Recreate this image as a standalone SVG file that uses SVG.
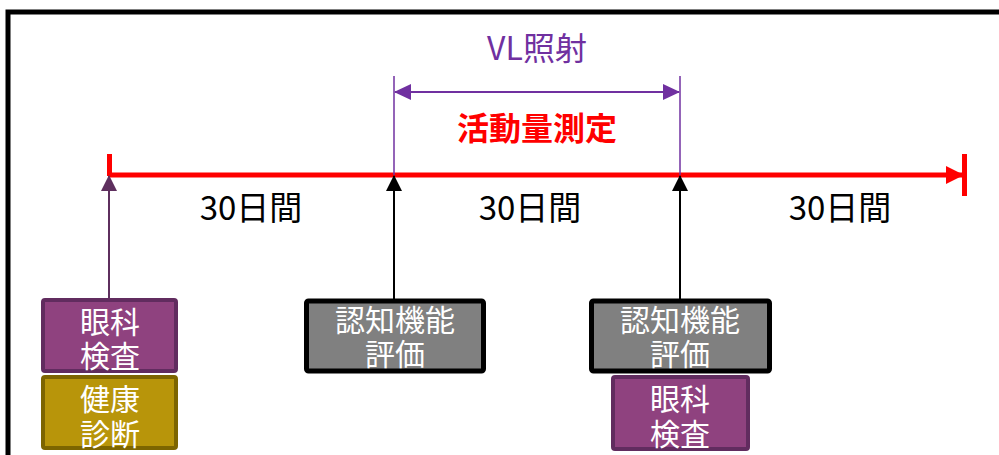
<svg xmlns="http://www.w3.org/2000/svg" width="999" height="455" viewBox="0 0 999 455">
<style>
.t{font-family:"Noto Sans CJK JP","Noto Sans",sans-serif;text-anchor:middle;dominant-baseline:central}
.w{fill:#fff;font-size:30px}
.d{fill:#000;font-size:33px}
</style>
<defs>
<marker id="ab" markerWidth="16" markerHeight="16" refX="15" refY="8" orient="auto" markerUnits="userSpaceOnUse"><path d="M0,0 L16,8 L0,16 z" fill="#000"/></marker>
<marker id="ap" markerWidth="16" markerHeight="16" refX="15" refY="8" orient="auto" markerUnits="userSpaceOnUse"><path d="M0,0 L16,8 L0,16 z" fill="#5E2F5E"/></marker>
<marker id="av" markerWidth="17" markerHeight="16" refX="16" refY="8" orient="auto-start-reverse" markerUnits="userSpaceOnUse"><path d="M0,0 L17,8 L0,16 z" fill="#7030A0"/></marker>
<marker id="ar" markerWidth="18" markerHeight="18" refX="17" refY="9" orient="auto" markerUnits="userSpaceOnUse"><path d="M0,0 L18,9 L0,18 z" fill="#f00"/></marker>
</defs>
<rect x="0" y="0" width="999" height="455" fill="#fff"/>
<rect x="8" y="12" width="1010" height="470" fill="none" stroke="#000" stroke-width="5"/>

<g id="connectors">
<line x1="108" y1="175" x2="963" y2="175" stroke="#f00" stroke-width="5" marker-end="url(#ar)"/>
<line x1="109.5" y1="154" x2="109.5" y2="176" stroke="#f00" stroke-width="5"/>
<line x1="964.5" y1="154" x2="964.5" y2="196" stroke="#f00" stroke-width="5"/>
<line x1="394" y1="76" x2="394" y2="175" stroke="#7030A0" stroke-width="1.5"/>
<line x1="680" y1="76" x2="680" y2="175" stroke="#7030A0" stroke-width="1.5"/>
<line x1="395" y1="92" x2="679" y2="92" stroke="#7030A0" stroke-width="2" marker-start="url(#av)" marker-end="url(#av)"/>
<line x1="109" y1="300" x2="109" y2="176" stroke="#5E2F5E" stroke-width="2" marker-end="url(#ap)"/>
<line x1="394" y1="300" x2="394" y2="176" stroke="#000" stroke-width="2" marker-end="url(#ab)"/>
<line x1="680" y1="300" x2="680" y2="176" stroke="#000" stroke-width="2" marker-end="url(#ab)"/>
</g>

<g id="labels">
<text class="t" x="537" y="46" fill="#7030A0" font-size="32">VL照射</text>
<text class="t" x="537" y="126" fill="#f00" font-size="32" font-weight="bold">活動量測定</text>
<text class="t d" x="251" y="206">30日間</text>
<text class="t d" x="530" y="206">30日間</text>
<text class="t d" x="840" y="206">30日間</text>
</g>

<g id="eye1">
<rect x="43" y="300" width="133" height="71" rx="2" fill="#8F427F" stroke="#612C5F" stroke-width="4"/>
<text class="t w"><tspan x="110" y="320">眼科</tspan><tspan x="110" y="354">検査</tspan></text>
</g>
<g id="health">
<rect x="43" y="377" width="133" height="71" rx="2" fill="#B8950A" stroke="#7D6500" stroke-width="4"/>
<text class="t w"><tspan x="110" y="397">健康</tspan><tspan x="110" y="432">診断</tspan></text>
</g>
<g id="cog1">
<rect x="306.5" y="301" width="177" height="70" rx="2" fill="#808080" stroke="#000" stroke-width="5"/>
<text class="t w" font-size="31"><tspan x="395" y="318">認知機能</tspan><tspan x="395" y="352">評価</tspan></text>
</g>
<g id="cog2">
<rect x="591.5" y="301" width="178" height="70" rx="2" fill="#808080" stroke="#000" stroke-width="5"/>
<text class="t w" font-size="31"><tspan x="680" y="318">認知機能</tspan><tspan x="680" y="352">評価</tspan></text>
</g>
<g id="eye2">
<rect x="613" y="377" width="135" height="72" rx="2" fill="#8F427F" stroke="#612C5F" stroke-width="4"/>
<text class="t w"><tspan x="680" y="397">眼科</tspan><tspan x="680" y="432">検査</tspan></text>
</g>
</svg>
